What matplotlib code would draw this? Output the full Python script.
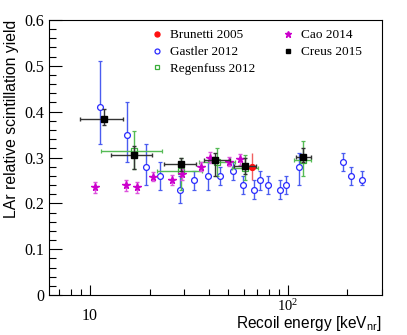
# plot.py
# LAr relative scintillation yield vs recoil energy (ROOT style recreation)

import numpy as np
import matplotlib
matplotlib.use("Agg")
import matplotlib.pyplot as plt
from matplotlib.ticker import FixedLocator, FixedFormatter, NullFormatter, MultipleLocator
from matplotlib.transforms import ScaledTranslation

plt.rcParams['font.family'] = 'Liberation Serif'
plt.rcParams['mathtext.fontset'] = 'custom'
plt.rcParams['mathtext.rm'] = 'Liberation Serif'

# ---------------------------------------------------------------
# data
brunetti_e = [65.6]
brunetti_y = [0.28]
brunetti_ylo = [0.25]
brunetti_yhi = [0.31]

gastler_e = [11.2, 15.3, 19.3, 22.5, 28.4, 33.6, 39.5, 45.6, 52.8, 59.7,
             67.4, 72.5, 79.5, 91.8, 98.1, 114.6, 191, 210, 238]
gastler_y = [0.41, 0.35, 0.28, 0.26, 0.23, 0.25, 0.26, 0.26, 0.27, 0.24,
             0.23, 0.25, 0.24, 0.23, 0.24, 0.28, 0.29, 0.26, 0.25]
gastler_ylo = [0.33, 0.29, 0.24, 0.23, 0.20, 0.23, 0.23, 0.24, 0.25, 0.22,
               0.21, 0.23, 0.22, 0.21, 0.22, 0.24, 0.27, 0.24, 0.24]
gastler_yhi = [0.51, 0.42, 0.33, 0.29, 0.26, 0.27, 0.29, 0.28, 0.29, 0.26,
               0.25, 0.27, 0.26, 0.25, 0.26, 0.31, 0.31, 0.28, 0.27]

regen_e = [16.7, 28.8, 43.9, 60.9, 119]
regen_y = [0.315, 0.27, 0.29, 0.278, 0.295]
regen_elo = [11.3, 21.7, 35.6, 52.3, 108]
regen_ehi = [23.0, 36.8, 53.9, 70.6, 131]
regen_ylo = [0.275, 0.23, 0.26, 0.25, 0.26]
regen_yhi = [0.357, 0.30, 0.32, 0.305, 0.335]

cao_e = [10.6, 15.2, 17.3, 20.9, 25.9, 29.1, 36.6, 40.6, 50.2, 57.7]
cao_y = [0.235, 0.24, 0.235, 0.258, 0.251, 0.264, 0.28, 0.30, 0.291, 0.296]
cao_err = [0.012, 0.012, 0.012, 0.01, 0.01, 0.012, 0.01, 0.012, 0.01, 0.012]

creus_e = [11.8, 16.7, 29.0, 42.9, 60.9, 119]
creus_y = [0.385, 0.305, 0.285, 0.295, 0.282, 0.302]
creus_elo = [8.9, 12.8, 23.7, 37.6, 53.8, 110]
creus_ehi = [14.6, 20.7, 34.2, 50.8, 69.2, 131]
creus_ylo = [0.37, 0.275, 0.27, 0.26, 0.265, 0.29]
creus_yhi = [0.405, 0.325, 0.30, 0.31, 0.30, 0.32]

y_ticks = [0, 0.1, 0.2, 0.3, 0.4, 0.5, 0.6]
y_ticklabels = ['0', '0.1', '0.2', '0.3', '0.4', '0.5', '0.6']
x_ticks = [10, 100]
x_ticklabels = ['10', r'$\mathregular{10^2}$']


def asym(v, lo, hi):
    v = np.array(v)
    return [v - np.array(lo), np.array(hi) - v]


fig = plt.figure(figsize=(4.07, 3.35), dpi=100)
ax = fig.add_axes([0.1204, 0.1194, 0.8182, 0.8209])

# Gastler 2012 - open blue circles
ax.errorbar(gastler_e, gastler_y, yerr=asym(gastler_y, gastler_ylo, gastler_yhi),
            fmt='o', ms=4.2, mfc='white', mec='#2a2aff', mew=0.9,
            ecolor='#4a5cf0', elinewidth=1.0, capsize=1.5, label='Gastler 2012', zorder=2)

# Regenfuss 2012 - open green squares
ax.errorbar(regen_e, regen_y, xerr=asym(regen_e, regen_elo, regen_ehi),
            yerr=asym(regen_y, regen_ylo, regen_yhi),
            fmt='s', ms=4.2, mfc='none', mec='#3aae3a', mew=0.9,
            ecolor='#55bb55', elinewidth=1.0, capsize=1.5, label='Regenfuss 2012', zorder=3)

# Cao 2014 - magenta stars
ax.errorbar(cao_e, cao_y, yerr=cao_err, fmt='*', ms=5.5, color='#cc00cc',
            ecolor='#dd55dd', elinewidth=1.0, capsize=1.2, label='Cao 2014', zorder=4)

# Brunetti 2005 - red dot
ax.errorbar(brunetti_e, brunetti_y, yerr=asym(brunetti_y, brunetti_ylo, brunetti_yhi),
            fmt='o', ms=4.2, color='#ff1010', ecolor='#f06060', elinewidth=1.0,
            capsize=0, label='Brunetti 2005', zorder=5)

# Creus 2015 - black squares
ax.errorbar(creus_e, creus_y, xerr=asym(creus_e, creus_elo, creus_ehi),
            yerr=asym(creus_y, creus_ylo, creus_yhi),
            fmt='s', ms=4.2, color='black', ecolor='#333333', elinewidth=1.0,
            capsize=1.5, label='Creus 2015', zorder=6)

ax.set_xscale('log')
ax.set_xlim(6.2, 300)
ax.set_ylim(0, 0.6)

ax.xaxis.set_major_locator(FixedLocator(x_ticks))
ax.xaxis.set_major_formatter(FixedFormatter(x_ticklabels))
ax.xaxis.set_minor_locator(FixedLocator([7, 8, 9, 20, 30, 40, 50, 60, 70, 80, 90, 200, 300]))
ax.xaxis.set_minor_formatter(NullFormatter())
ax.yaxis.set_major_locator(FixedLocator(y_ticks))
ax.yaxis.set_major_formatter(FixedFormatter(y_ticklabels))
ax.yaxis.set_minor_locator(MultipleLocator(0.02))

ax.tick_params(which='both', direction='in', top=False, right=False, labelsize=11.5)
ax.tick_params(which='major', length=9, width=0.8)
ax.tick_params(which='minor', length=5, width=0.8)
ax.tick_params(axis='x', which='major', length=7, pad=9)
ax.tick_params(axis='x', which='minor', length=4.5)
for s in ax.spines.values():
    s.set_linewidth(0.8)

# ROOT puts the 10^2 label a bit higher (and a touch smaller) than the plain "10"
tick100 = ax.xaxis.get_major_ticks()[1]
tick100.label1.set_fontsize(10.5)
tick100.label1.set_transform(tick100.label1.get_transform()
                             + ScaledTranslation(0, 7 / 72, fig.dpi_scale_trans))

ax.set_ylabel('LAr relative scintillation yield', family='Liberation Sans',
              fontsize=11.3, loc='top', labelpad=4)
ax.set_xlabel(r'Recoil energy [keV$_{\mathregular{nr}}$]', family='Liberation Sans',
              fontsize=11.2, loc='right')
ax.xaxis.set_label_coords(1.0, -0.068)

handles, labels = ax.get_legend_handles_labels()
order = [labels.index(n) for n in ['Brunetti 2005', 'Gastler 2012', 'Regenfuss 2012',
                                   'Cao 2014', 'Creus 2015']]
leg = ax.legend([handles[i][0] for i in order], [labels[i] for i in order],
                ncol=2, frameon=False, loc='upper left', bbox_to_anchor=(0.272, 1.01),
                fontsize=9.5, handlelength=0.8, handletextpad=0.6, columnspacing=2.05,
                labelspacing=0.35, markerscale=0.85)

fig.savefig('out.png', dpi=100)
